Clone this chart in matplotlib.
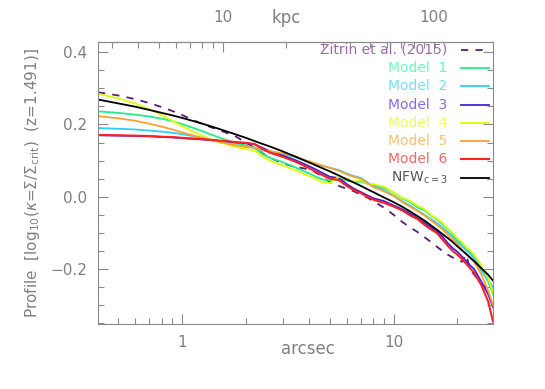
import numpy as np
import matplotlib
matplotlib.use("Agg")
from matplotlib import pyplot as plt
from matplotlib.ticker import FixedLocator, NullFormatter, MultipleLocator

# radius in arcsec where the profiles were read
arcsec = [0.40, 0.5, 0.6, 0.7, 0.8, 0.9, 1.0, 1.2, 1.4, 1.6, 1.8, 2.0, 2.2, 2.4, 2.6,
          3.0, 3.4, 3.8, 4.2, 4.6, 5.0, 5.5, 6.0, 6.5, 7.0, 7.5, 8.0, 9.0, 10, 11,
          12, 13, 14, 15, 16, 17, 18, 19, 20, 21, 22, 23, 24, 26, 28, 29.5]

zitrin = [0.289, 0.280, 0.270, 0.259, 0.248, 0.237, 0.226, 0.205, 0.190, 0.178, 0.166,
          0.150, 0.135, 0.120, 0.108, 0.092, 0.083, 0.078, 0.070, 0.056, 0.040, 0.030,
          0.022, 0.015, 0.005, -0.002, -0.012, -0.030, -0.050, -0.070, -0.085, -0.098,
          -0.112, -0.125, -0.138, -0.150, -0.160, -0.168, -0.172, -0.180, -0.160,
          -0.200, -0.215, -0.240, -0.258, -0.265]

model1 = [0.236, 0.232, 0.227, 0.222, 0.216, 0.209, 0.201, 0.185, 0.170, 0.158, 0.148,
          0.142, 0.135, 0.118, 0.108, 0.095, 0.082, 0.070, 0.058, 0.048, 0.045, 0.052,
          0.045, 0.040, 0.042, 0.036, 0.033, 0.024, 0.012, -0.005, -0.015, -0.030,
          -0.038, -0.052, -0.062, -0.076, -0.090, -0.103, -0.120, -0.130, -0.142,
          -0.152, -0.165, -0.200, -0.235, -0.270]

model2 = [0.190, 0.188, 0.186, 0.183, 0.180, 0.177, 0.173, 0.165, 0.157, 0.149, 0.142,
          0.138, 0.135, 0.128, 0.124, 0.118, 0.110, 0.100, 0.092, 0.085, 0.080, 0.074,
          0.064, 0.057, 0.052, 0.040, 0.030, 0.018, 0.004, -0.013, -0.025, -0.038,
          -0.050, -0.062, -0.072, -0.085, -0.098, -0.110, -0.125, -0.135, -0.148,
          -0.158, -0.170, -0.205, -0.230, -0.250]

model3 = [0.170, 0.169, 0.168, 0.167, 0.165, 0.164, 0.162, 0.159, 0.156, 0.153, 0.150,
          0.148, 0.145, 0.135, 0.126, 0.114, 0.102, 0.090, 0.078, 0.066, 0.055, 0.052,
          0.035, 0.022, 0.013, 0.004, -0.004, -0.012, -0.024, -0.035, -0.047, -0.060,
          -0.072, -0.085, -0.095, -0.110, -0.128, -0.142, -0.152, -0.165, -0.178,
          -0.190, -0.200, -0.235, -0.270, -0.305]

model4 = [0.285, 0.272, 0.258, 0.242, 0.226, 0.210, 0.195, 0.172, 0.157, 0.146, 0.137,
          0.132, 0.128, 0.112, 0.100, 0.086, 0.074, 0.062, 0.052, 0.040, 0.038, 0.055,
          0.050, 0.042, 0.046, 0.036, 0.035, 0.028, 0.012, -0.003, -0.012, -0.025,
          -0.035, -0.050, -0.060, -0.072, -0.088, -0.100, -0.115, -0.125, -0.140,
          -0.148, -0.160, -0.190, -0.225, -0.265]

model5 = [0.223, 0.217, 0.210, 0.202, 0.194, 0.186, 0.178, 0.165, 0.155, 0.148, 0.142,
          0.138, 0.136, 0.130, 0.126, 0.120, 0.112, 0.102, 0.094, 0.086, 0.080, 0.072,
          0.062, 0.055, 0.050, 0.038, 0.027, 0.015, 0.002, -0.015, -0.028, -0.040,
          -0.052, -0.065, -0.078, -0.090, -0.105, -0.118, -0.130, -0.145, -0.158,
          -0.170, -0.180, -0.215, -0.260, -0.300]

model6 = [0.171, 0.170, 0.169, 0.168, 0.166, 0.165, 0.163, 0.160, 0.157, 0.154, 0.151,
          0.149, 0.146, 0.132, 0.122, 0.110, 0.098, 0.085, 0.072, 0.060, 0.050, 0.046,
          0.030, 0.018, 0.010, 0.000, -0.008, -0.017, -0.027, -0.038, -0.052, -0.062,
          -0.078, -0.090, -0.100, -0.118, -0.135, -0.150, -0.160, -0.172, -0.185,
          -0.198, -0.210, -0.245, -0.290, -0.345]

nfw = [0.269, 0.258, 0.249, 0.240, 0.232, 0.225, 0.218, 0.205, 0.193, 0.182, 0.172,
       0.163, 0.154, 0.146, 0.139, 0.125, 0.112, 0.100, 0.089, 0.079, 0.070, 0.059,
       0.048, 0.039, 0.030, 0.021, 0.013, -0.002, -0.015, -0.028, -0.041, -0.054,
       -0.066, -0.079, -0.091, -0.103, -0.114, -0.125, -0.137, -0.148, -0.158,
       -0.168, -0.178, -0.198, -0.216, -0.232]

kpc_per_arcsec = 6.44

series = [
    ("Zitrin et al. (2015)", zitrin, "#5a1a7a", "#9a6aaa", "--", 1.3),
    ("Model  1", model1, "#22ee88", "#66ffbb", "-", 1.3),
    ("Model  2", model2, "#33ccff", "#77ddff", "-", 1.3),
    ("Model  3", model3, "#4422dd", "#8866ee", "-", 1.3),
    ("Model  4", model4, "#ddff00", "#eeff55", "-", 1.3),
    ("Model  5", model5, "#ffa030", "#ffc070", "-", 1.3),
    ("Model  6", model6, "#ff2020", "#ff6666", "-", 1.5),
    (r"NFW$_{\rm c=3}$", nfw, "#000000", "#555555", "-", 1.3),
]

gray = "#8a8a8a"
tgray = "#808080"
plt.rcParams["font.family"] = "DejaVu Sans"

fig = plt.figure(figsize=(5.45, 3.89), dpi=100)
ax = fig.add_axes([98 / 545, 65 / 389, 395 / 545, 282 / 389])

for name, vals, col, tcol, ls, lw in series:
    if ls == "--":
        ax.plot(arcsec, vals, color=col, ls=(0, (4, 4)), lw=lw)
    else:
        ax.plot(arcsec, vals, color=col, ls=ls, lw=lw)

ax.set_xscale("log")
ax.set_xlim(0.40, 29.5)
ax.set_ylim(-0.352, 0.428)

ax.xaxis.set_major_locator(FixedLocator([1, 10]))
ax.xaxis.set_minor_locator(FixedLocator([0.5, 0.6, 0.7, 0.8, 0.9, 2, 3, 4, 5, 6, 7, 8, 9, 20]))
ax.xaxis.set_minor_formatter(NullFormatter())
ax.set_xticklabels(["1", "10"])
ax.yaxis.set_minor_locator(MultipleLocator(0.05))
ax.set_yticks([-0.2, 0.0, 0.2, 0.4])
ax.set_yticklabels(["\u22120.2", "0.0", "0.2", "0.4"])

ax.tick_params(which="both", direction="in", colors=gray, labelcolor=tgray,
               labelsize=11, right=True)
ax.tick_params(which="major", length=7, width=0.8, pad=8)
ax.tick_params(which="minor", length=4, width=0.8)
ax.tick_params(axis="x", which="both", top=False)
for s in ax.spines.values():
    s.set_color(gray)
    s.set_linewidth(0.8)

fig.text(308 / 545, 1 - 349 / 389, "arcsec", color=tgray, fontsize=12,
         ha="center", va="center")
ax.set_ylabel(r"Profile  [log$_{10}$($\kappa$=$\Sigma$/$\Sigma_{\rm crit}$)  (z=1.491)]",
              color=tgray, fontsize=11, labelpad=6)

top = ax.secondary_xaxis("top", functions=(lambda a: a * kpc_per_arcsec,
                                           lambda k: k / kpc_per_arcsec))
top.xaxis.set_major_locator(FixedLocator([10, 100]))
top.xaxis.set_minor_locator(FixedLocator([3, 4, 5, 6, 7, 8, 9, 20, 30, 40, 50, 60, 70, 80, 90]))
top.xaxis.set_minor_formatter(NullFormatter())
top.set_xticklabels(["10", "100"])
top.tick_params(which="both", direction="in", colors=gray, labelcolor=tgray, labelsize=11)
top.tick_params(which="major", length=7, width=0.8, pad=12)
top.tick_params(which="minor", length=4, width=0.8)
top.spines["top"].set_color(gray)
fig.text(286 / 545, 1 - 18 / 389, "kpc", color=tgray, fontsize=12,
         ha="center", va="center")

# legend drawn by hand: text right-aligned, line sample to the right
row_y = [0.972, 0.908, 0.844, 0.778, 0.713, 0.649, 0.585, 0.518]
for (name, vals, col, tcol, ls, lw), yy in zip(series, row_y):
    ax.text(0.885, yy, name, transform=ax.transAxes, ha="right", va="center",
            color=tcol, fontsize=10)
    if ls == "--":
        ax.plot([0.92, 0.99], [yy, yy], transform=ax.transAxes, color=col,
                ls=(0, (4, 4)), lw=lw)
    else:
        ax.plot([0.92, 0.99], [yy, yy], transform=ax.transAxes, color=col, lw=lw)

fig.savefig("out.png", dpi=100)
